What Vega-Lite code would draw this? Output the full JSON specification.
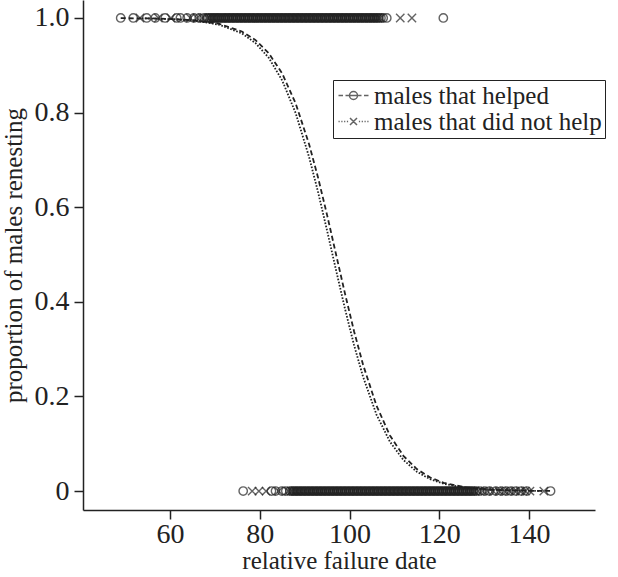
{
  "$schema": "https://vega.github.io/schema/vega-lite/v6.json",
  "width": 512,
  "height": 510,
  "autosize": {"type": "none"},
  "padding": {"left": 83, "top": 0, "right": 23, "bottom": 67},
  "background": "white",
  "config": {
    "view": {"stroke": null},
    "font": "Liberation Serif",
    "axis": {
      "grid": false,
      "domainColor": "#222",
      "domainWidth": 1.5,
      "tickColor": "#222",
      "tickWidth": 1.5,
      "tickSize": 9,
      "labelFont": "Liberation Serif",
      "labelFontSize": 28,
      "labelColor": "#222",
      "titleFont": "Liberation Serif",
      "titleFontSize": 25,
      "titleFontWeight": "normal",
      "titleColor": "#222"
    }
  },
  "datasets": {
    "pts": [
      {"x": 49.0, "y": 1, "g": "helped"}, {"x": 51.8, "y": 1, "g": "helped"}, {"x": 54.8, "y": 1, "g": "helped"},
      {"x": 56.7, "y": 1, "g": "helped"}, {"x": 58.9, "y": 1, "g": "helped"}, {"x": 61.5, "y": 1, "g": "helped"},
      {"x": 62.3, "y": 1, "g": "helped"}, {"x": 63.8, "y": 1, "g": "helped"}, {"x": 65.3, "y": 1, "g": "helped"},
      {"x": 66.5, "y": 1, "g": "helped"}, {"x": 67.6, "y": 1, "g": "helped"}, {"x": 68.2, "y": 1, "g": "helped"},
      {"x": 68.7, "y": 1, "g": "helped"}, {"x": 69.1, "y": 1, "g": "helped"}, {"x": 69.6, "y": 1, "g": "helped"},
      {"x": 70.0, "y": 1, "g": "helped"}, {"x": 70.5, "y": 1, "g": "helped"}, {"x": 70.9, "y": 1, "g": "helped"},
      {"x": 71.4, "y": 1, "g": "helped"}, {"x": 71.9, "y": 1, "g": "helped"}, {"x": 72.3, "y": 1, "g": "helped"},
      {"x": 72.8, "y": 1, "g": "helped"}, {"x": 73.2, "y": 1, "g": "helped"}, {"x": 73.7, "y": 1, "g": "helped"},
      {"x": 74.1, "y": 1, "g": "helped"}, {"x": 74.6, "y": 1, "g": "helped"}, {"x": 75.0, "y": 1, "g": "helped"},
      {"x": 75.5, "y": 1, "g": "helped"}, {"x": 75.9, "y": 1, "g": "helped"}, {"x": 76.4, "y": 1, "g": "helped"},
      {"x": 76.8, "y": 1, "g": "helped"}, {"x": 77.3, "y": 1, "g": "helped"}, {"x": 77.7, "y": 1, "g": "helped"},
      {"x": 78.2, "y": 1, "g": "helped"}, {"x": 78.6, "y": 1, "g": "helped"}, {"x": 79.1, "y": 1, "g": "helped"},
      {"x": 79.5, "y": 1, "g": "helped"}, {"x": 80.0, "y": 1, "g": "helped"}, {"x": 80.4, "y": 1, "g": "helped"},
      {"x": 80.9, "y": 1, "g": "helped"}, {"x": 81.3, "y": 1, "g": "helped"}, {"x": 81.8, "y": 1, "g": "helped"},
      {"x": 82.2, "y": 1, "g": "helped"}, {"x": 82.7, "y": 1, "g": "helped"}, {"x": 83.1, "y": 1, "g": "helped"},
      {"x": 83.6, "y": 1, "g": "helped"}, {"x": 84.0, "y": 1, "g": "helped"}, {"x": 84.5, "y": 1, "g": "helped"},
      {"x": 84.9, "y": 1, "g": "helped"}, {"x": 85.4, "y": 1, "g": "helped"}, {"x": 85.8, "y": 1, "g": "helped"},
      {"x": 86.3, "y": 1, "g": "helped"}, {"x": 86.7, "y": 1, "g": "helped"}, {"x": 87.2, "y": 1, "g": "helped"},
      {"x": 87.6, "y": 1, "g": "helped"}, {"x": 88.1, "y": 1, "g": "helped"}, {"x": 88.5, "y": 1, "g": "helped"},
      {"x": 89.0, "y": 1, "g": "helped"}, {"x": 89.4, "y": 1, "g": "helped"}, {"x": 89.9, "y": 1, "g": "helped"},
      {"x": 90.3, "y": 1, "g": "helped"}, {"x": 90.8, "y": 1, "g": "helped"}, {"x": 91.2, "y": 1, "g": "helped"},
      {"x": 91.7, "y": 1, "g": "helped"}, {"x": 92.1, "y": 1, "g": "helped"}, {"x": 92.6, "y": 1, "g": "helped"},
      {"x": 93.0, "y": 1, "g": "helped"}, {"x": 93.5, "y": 1, "g": "helped"}, {"x": 93.9, "y": 1, "g": "helped"},
      {"x": 94.4, "y": 1, "g": "helped"}, {"x": 94.8, "y": 1, "g": "helped"}, {"x": 95.3, "y": 1, "g": "helped"},
      {"x": 95.7, "y": 1, "g": "helped"}, {"x": 96.2, "y": 1, "g": "helped"}, {"x": 96.6, "y": 1, "g": "helped"},
      {"x": 97.1, "y": 1, "g": "helped"}, {"x": 97.5, "y": 1, "g": "helped"}, {"x": 98.0, "y": 1, "g": "helped"},
      {"x": 98.4, "y": 1, "g": "helped"}, {"x": 98.9, "y": 1, "g": "helped"}, {"x": 99.3, "y": 1, "g": "helped"},
      {"x": 99.8, "y": 1, "g": "helped"}, {"x": 100.2, "y": 1, "g": "helped"}, {"x": 100.7, "y": 1, "g": "helped"},
      {"x": 101.1, "y": 1, "g": "helped"}, {"x": 101.6, "y": 1, "g": "helped"}, {"x": 102.0, "y": 1, "g": "helped"},
      {"x": 102.5, "y": 1, "g": "helped"}, {"x": 102.9, "y": 1, "g": "helped"}, {"x": 103.4, "y": 1, "g": "helped"},
      {"x": 103.8, "y": 1, "g": "helped"}, {"x": 104.3, "y": 1, "g": "helped"}, {"x": 104.7, "y": 1, "g": "helped"},
      {"x": 105.2, "y": 1, "g": "helped"}, {"x": 105.6, "y": 1, "g": "helped"}, {"x": 106.1, "y": 1, "g": "helped"},
      {"x": 106.5, "y": 1, "g": "helped"}, {"x": 107.0, "y": 1, "g": "helped"}, {"x": 107.5, "y": 1, "g": "helped"},
      {"x": 108.3, "y": 1, "g": "helped"}, {"x": 120.9, "y": 1, "g": "helped"},
      {"x": 53.3, "y": 1, "g": "nothelp"}, {"x": 57.4, "y": 1, "g": "nothelp"}, {"x": 60.2, "y": 1, "g": "nothelp"},
      {"x": 64.5, "y": 1, "g": "nothelp"}, {"x": 66.0, "y": 1, "g": "nothelp"}, {"x": 67.2, "y": 1, "g": "nothelp"},
      {"x": 68.4, "y": 1, "g": "nothelp"}, {"x": 68.9, "y": 1, "g": "nothelp"}, {"x": 69.4, "y": 1, "g": "nothelp"},
      {"x": 69.8, "y": 1, "g": "nothelp"}, {"x": 70.3, "y": 1, "g": "nothelp"}, {"x": 70.7, "y": 1, "g": "nothelp"},
      {"x": 71.2, "y": 1, "g": "nothelp"}, {"x": 71.6, "y": 1, "g": "nothelp"}, {"x": 72.1, "y": 1, "g": "nothelp"},
      {"x": 72.5, "y": 1, "g": "nothelp"}, {"x": 73.0, "y": 1, "g": "nothelp"}, {"x": 73.4, "y": 1, "g": "nothelp"},
      {"x": 73.9, "y": 1, "g": "nothelp"}, {"x": 74.3, "y": 1, "g": "nothelp"}, {"x": 74.8, "y": 1, "g": "nothelp"},
      {"x": 75.2, "y": 1, "g": "nothelp"}, {"x": 75.7, "y": 1, "g": "nothelp"}, {"x": 76.1, "y": 1, "g": "nothelp"},
      {"x": 76.6, "y": 1, "g": "nothelp"}, {"x": 77.0, "y": 1, "g": "nothelp"}, {"x": 77.5, "y": 1, "g": "nothelp"},
      {"x": 77.9, "y": 1, "g": "nothelp"}, {"x": 78.4, "y": 1, "g": "nothelp"}, {"x": 78.8, "y": 1, "g": "nothelp"},
      {"x": 79.3, "y": 1, "g": "nothelp"}, {"x": 79.7, "y": 1, "g": "nothelp"}, {"x": 80.2, "y": 1, "g": "nothelp"},
      {"x": 80.6, "y": 1, "g": "nothelp"}, {"x": 81.1, "y": 1, "g": "nothelp"}, {"x": 81.5, "y": 1, "g": "nothelp"},
      {"x": 82.0, "y": 1, "g": "nothelp"}, {"x": 82.4, "y": 1, "g": "nothelp"}, {"x": 82.9, "y": 1, "g": "nothelp"},
      {"x": 83.3, "y": 1, "g": "nothelp"}, {"x": 83.8, "y": 1, "g": "nothelp"}, {"x": 84.2, "y": 1, "g": "nothelp"},
      {"x": 84.7, "y": 1, "g": "nothelp"}, {"x": 85.1, "y": 1, "g": "nothelp"}, {"x": 85.6, "y": 1, "g": "nothelp"},
      {"x": 86.0, "y": 1, "g": "nothelp"}, {"x": 86.5, "y": 1, "g": "nothelp"}, {"x": 86.9, "y": 1, "g": "nothelp"},
      {"x": 87.4, "y": 1, "g": "nothelp"}, {"x": 87.8, "y": 1, "g": "nothelp"}, {"x": 88.3, "y": 1, "g": "nothelp"},
      {"x": 88.7, "y": 1, "g": "nothelp"}, {"x": 89.2, "y": 1, "g": "nothelp"}, {"x": 89.6, "y": 1, "g": "nothelp"},
      {"x": 90.1, "y": 1, "g": "nothelp"}, {"x": 90.5, "y": 1, "g": "nothelp"}, {"x": 91.0, "y": 1, "g": "nothelp"},
      {"x": 91.4, "y": 1, "g": "nothelp"}, {"x": 91.9, "y": 1, "g": "nothelp"}, {"x": 92.3, "y": 1, "g": "nothelp"},
      {"x": 92.8, "y": 1, "g": "nothelp"}, {"x": 93.2, "y": 1, "g": "nothelp"}, {"x": 93.7, "y": 1, "g": "nothelp"},
      {"x": 94.1, "y": 1, "g": "nothelp"}, {"x": 94.6, "y": 1, "g": "nothelp"}, {"x": 95.0, "y": 1, "g": "nothelp"},
      {"x": 95.5, "y": 1, "g": "nothelp"}, {"x": 95.9, "y": 1, "g": "nothelp"}, {"x": 96.4, "y": 1, "g": "nothelp"},
      {"x": 96.8, "y": 1, "g": "nothelp"}, {"x": 97.3, "y": 1, "g": "nothelp"}, {"x": 97.7, "y": 1, "g": "nothelp"},
      {"x": 98.2, "y": 1, "g": "nothelp"}, {"x": 98.6, "y": 1, "g": "nothelp"}, {"x": 99.1, "y": 1, "g": "nothelp"},
      {"x": 99.5, "y": 1, "g": "nothelp"}, {"x": 100.0, "y": 1, "g": "nothelp"}, {"x": 100.4, "y": 1, "g": "nothelp"},
      {"x": 100.9, "y": 1, "g": "nothelp"}, {"x": 101.3, "y": 1, "g": "nothelp"}, {"x": 101.8, "y": 1, "g": "nothelp"},
      {"x": 102.2, "y": 1, "g": "nothelp"}, {"x": 102.7, "y": 1, "g": "nothelp"}, {"x": 103.1, "y": 1, "g": "nothelp"},
      {"x": 103.6, "y": 1, "g": "nothelp"}, {"x": 104.0, "y": 1, "g": "nothelp"}, {"x": 104.5, "y": 1, "g": "nothelp"},
      {"x": 104.9, "y": 1, "g": "nothelp"}, {"x": 105.4, "y": 1, "g": "nothelp"}, {"x": 105.8, "y": 1, "g": "nothelp"},
      {"x": 106.3, "y": 1, "g": "nothelp"}, {"x": 106.8, "y": 1, "g": "nothelp"}, {"x": 111.3, "y": 1, "g": "nothelp"},
      {"x": 113.9, "y": 1, "g": "nothelp"},
      {"x": 76.3, "y": 0, "g": "helped"}, {"x": 82.6, "y": 0, "g": "helped"}, {"x": 83.5, "y": 0, "g": "helped"},
      {"x": 84.9, "y": 0, "g": "helped"}, {"x": 85.8, "y": 0, "g": "helped"}, {"x": 86.7, "y": 0, "g": "helped"},
      {"x": 87.2, "y": 0, "g": "helped"}, {"x": 87.6, "y": 0, "g": "helped"}, {"x": 88.1, "y": 0, "g": "helped"},
      {"x": 88.5, "y": 0, "g": "helped"}, {"x": 89.0, "y": 0, "g": "helped"}, {"x": 89.4, "y": 0, "g": "helped"},
      {"x": 89.9, "y": 0, "g": "helped"}, {"x": 90.3, "y": 0, "g": "helped"}, {"x": 90.8, "y": 0, "g": "helped"},
      {"x": 91.2, "y": 0, "g": "helped"}, {"x": 91.7, "y": 0, "g": "helped"}, {"x": 92.1, "y": 0, "g": "helped"},
      {"x": 92.6, "y": 0, "g": "helped"}, {"x": 93.0, "y": 0, "g": "helped"}, {"x": 93.5, "y": 0, "g": "helped"},
      {"x": 93.9, "y": 0, "g": "helped"}, {"x": 94.4, "y": 0, "g": "helped"}, {"x": 94.8, "y": 0, "g": "helped"},
      {"x": 95.3, "y": 0, "g": "helped"}, {"x": 95.7, "y": 0, "g": "helped"}, {"x": 96.2, "y": 0, "g": "helped"},
      {"x": 96.6, "y": 0, "g": "helped"}, {"x": 97.1, "y": 0, "g": "helped"}, {"x": 97.5, "y": 0, "g": "helped"},
      {"x": 98.0, "y": 0, "g": "helped"}, {"x": 98.4, "y": 0, "g": "helped"}, {"x": 98.9, "y": 0, "g": "helped"},
      {"x": 99.3, "y": 0, "g": "helped"}, {"x": 99.8, "y": 0, "g": "helped"}, {"x": 100.2, "y": 0, "g": "helped"},
      {"x": 100.7, "y": 0, "g": "helped"}, {"x": 101.1, "y": 0, "g": "helped"}, {"x": 101.6, "y": 0, "g": "helped"},
      {"x": 102.0, "y": 0, "g": "helped"}, {"x": 102.5, "y": 0, "g": "helped"}, {"x": 102.9, "y": 0, "g": "helped"},
      {"x": 103.4, "y": 0, "g": "helped"}, {"x": 103.8, "y": 0, "g": "helped"}, {"x": 104.3, "y": 0, "g": "helped"},
      {"x": 104.7, "y": 0, "g": "helped"}, {"x": 105.2, "y": 0, "g": "helped"}, {"x": 105.6, "y": 0, "g": "helped"},
      {"x": 106.1, "y": 0, "g": "helped"}, {"x": 106.5, "y": 0, "g": "helped"}, {"x": 107.0, "y": 0, "g": "helped"},
      {"x": 107.4, "y": 0, "g": "helped"}, {"x": 107.9, "y": 0, "g": "helped"}, {"x": 108.3, "y": 0, "g": "helped"},
      {"x": 108.8, "y": 0, "g": "helped"}, {"x": 109.2, "y": 0, "g": "helped"}, {"x": 109.7, "y": 0, "g": "helped"},
      {"x": 110.1, "y": 0, "g": "helped"}, {"x": 110.6, "y": 0, "g": "helped"}, {"x": 111.0, "y": 0, "g": "helped"},
      {"x": 111.5, "y": 0, "g": "helped"}, {"x": 111.9, "y": 0, "g": "helped"}, {"x": 112.4, "y": 0, "g": "helped"},
      {"x": 112.8, "y": 0, "g": "helped"}, {"x": 113.3, "y": 0, "g": "helped"}, {"x": 113.7, "y": 0, "g": "helped"},
      {"x": 114.2, "y": 0, "g": "helped"}, {"x": 114.6, "y": 0, "g": "helped"}, {"x": 115.1, "y": 0, "g": "helped"},
      {"x": 115.5, "y": 0, "g": "helped"}, {"x": 116.0, "y": 0, "g": "helped"}, {"x": 116.4, "y": 0, "g": "helped"},
      {"x": 116.9, "y": 0, "g": "helped"}, {"x": 117.3, "y": 0, "g": "helped"}, {"x": 117.8, "y": 0, "g": "helped"},
      {"x": 118.2, "y": 0, "g": "helped"}, {"x": 118.7, "y": 0, "g": "helped"}, {"x": 119.1, "y": 0, "g": "helped"},
      {"x": 119.6, "y": 0, "g": "helped"}, {"x": 120.0, "y": 0, "g": "helped"}, {"x": 120.5, "y": 0, "g": "helped"},
      {"x": 120.9, "y": 0, "g": "helped"}, {"x": 121.4, "y": 0, "g": "helped"}, {"x": 121.8, "y": 0, "g": "helped"},
      {"x": 122.3, "y": 0, "g": "helped"}, {"x": 122.7, "y": 0, "g": "helped"}, {"x": 123.2, "y": 0, "g": "helped"},
      {"x": 123.6, "y": 0, "g": "helped"}, {"x": 124.1, "y": 0, "g": "helped"}, {"x": 124.5, "y": 0, "g": "helped"},
      {"x": 125.0, "y": 0, "g": "helped"}, {"x": 125.4, "y": 0, "g": "helped"}, {"x": 125.9, "y": 0, "g": "helped"},
      {"x": 126.3, "y": 0, "g": "helped"}, {"x": 126.8, "y": 0, "g": "helped"}, {"x": 127.2, "y": 0, "g": "helped"},
      {"x": 127.7, "y": 0, "g": "helped"}, {"x": 128.2, "y": 0, "g": "helped"}, {"x": 129.0, "y": 0, "g": "helped"},
      {"x": 130.1, "y": 0, "g": "helped"}, {"x": 131.2, "y": 0, "g": "helped"}, {"x": 132.6, "y": 0, "g": "helped"},
      {"x": 133.8, "y": 0, "g": "helped"}, {"x": 134.9, "y": 0, "g": "helped"}, {"x": 136.0, "y": 0, "g": "helped"},
      {"x": 137.1, "y": 0, "g": "helped"}, {"x": 138.3, "y": 0, "g": "helped"}, {"x": 139.5, "y": 0, "g": "helped"},
      {"x": 144.8, "y": 0, "g": "helped"},
      {"x": 78.3, "y": 0, "g": "nothelp"}, {"x": 79.8, "y": 0, "g": "nothelp"}, {"x": 81.4, "y": 0, "g": "nothelp"},
      {"x": 84.2, "y": 0, "g": "nothelp"}, {"x": 86.4, "y": 0, "g": "nothelp"}, {"x": 87.0, "y": 0, "g": "nothelp"},
      {"x": 87.4, "y": 0, "g": "nothelp"}, {"x": 87.9, "y": 0, "g": "nothelp"}, {"x": 88.3, "y": 0, "g": "nothelp"},
      {"x": 88.8, "y": 0, "g": "nothelp"}, {"x": 89.2, "y": 0, "g": "nothelp"}, {"x": 89.7, "y": 0, "g": "nothelp"},
      {"x": 90.1, "y": 0, "g": "nothelp"}, {"x": 90.6, "y": 0, "g": "nothelp"}, {"x": 91.0, "y": 0, "g": "nothelp"},
      {"x": 91.5, "y": 0, "g": "nothelp"}, {"x": 91.9, "y": 0, "g": "nothelp"}, {"x": 92.4, "y": 0, "g": "nothelp"},
      {"x": 92.8, "y": 0, "g": "nothelp"}, {"x": 93.3, "y": 0, "g": "nothelp"}, {"x": 93.7, "y": 0, "g": "nothelp"},
      {"x": 94.2, "y": 0, "g": "nothelp"}, {"x": 94.6, "y": 0, "g": "nothelp"}, {"x": 95.1, "y": 0, "g": "nothelp"},
      {"x": 95.5, "y": 0, "g": "nothelp"}, {"x": 96.0, "y": 0, "g": "nothelp"}, {"x": 96.4, "y": 0, "g": "nothelp"},
      {"x": 96.9, "y": 0, "g": "nothelp"}, {"x": 97.3, "y": 0, "g": "nothelp"}, {"x": 97.8, "y": 0, "g": "nothelp"},
      {"x": 98.2, "y": 0, "g": "nothelp"}, {"x": 98.7, "y": 0, "g": "nothelp"}, {"x": 99.1, "y": 0, "g": "nothelp"},
      {"x": 99.6, "y": 0, "g": "nothelp"}, {"x": 100.0, "y": 0, "g": "nothelp"}, {"x": 100.5, "y": 0, "g": "nothelp"},
      {"x": 100.9, "y": 0, "g": "nothelp"}, {"x": 101.4, "y": 0, "g": "nothelp"}, {"x": 101.8, "y": 0, "g": "nothelp"},
      {"x": 102.3, "y": 0, "g": "nothelp"}, {"x": 102.7, "y": 0, "g": "nothelp"}, {"x": 103.2, "y": 0, "g": "nothelp"},
      {"x": 103.6, "y": 0, "g": "nothelp"}, {"x": 104.1, "y": 0, "g": "nothelp"}, {"x": 104.5, "y": 0, "g": "nothelp"},
      {"x": 105.0, "y": 0, "g": "nothelp"}, {"x": 105.4, "y": 0, "g": "nothelp"}, {"x": 105.9, "y": 0, "g": "nothelp"},
      {"x": 106.3, "y": 0, "g": "nothelp"}, {"x": 106.8, "y": 0, "g": "nothelp"}, {"x": 107.2, "y": 0, "g": "nothelp"},
      {"x": 107.7, "y": 0, "g": "nothelp"}, {"x": 108.1, "y": 0, "g": "nothelp"}, {"x": 108.6, "y": 0, "g": "nothelp"},
      {"x": 109.0, "y": 0, "g": "nothelp"}, {"x": 109.5, "y": 0, "g": "nothelp"}, {"x": 109.9, "y": 0, "g": "nothelp"},
      {"x": 110.4, "y": 0, "g": "nothelp"}, {"x": 110.8, "y": 0, "g": "nothelp"}, {"x": 111.3, "y": 0, "g": "nothelp"},
      {"x": 111.7, "y": 0, "g": "nothelp"}, {"x": 112.2, "y": 0, "g": "nothelp"}, {"x": 112.6, "y": 0, "g": "nothelp"},
      {"x": 113.1, "y": 0, "g": "nothelp"}, {"x": 113.5, "y": 0, "g": "nothelp"}, {"x": 114.0, "y": 0, "g": "nothelp"},
      {"x": 114.4, "y": 0, "g": "nothelp"}, {"x": 114.9, "y": 0, "g": "nothelp"}, {"x": 115.3, "y": 0, "g": "nothelp"},
      {"x": 115.8, "y": 0, "g": "nothelp"}, {"x": 116.2, "y": 0, "g": "nothelp"}, {"x": 116.7, "y": 0, "g": "nothelp"},
      {"x": 117.1, "y": 0, "g": "nothelp"}, {"x": 117.6, "y": 0, "g": "nothelp"}, {"x": 118.0, "y": 0, "g": "nothelp"},
      {"x": 118.5, "y": 0, "g": "nothelp"}, {"x": 118.9, "y": 0, "g": "nothelp"}, {"x": 119.4, "y": 0, "g": "nothelp"},
      {"x": 119.8, "y": 0, "g": "nothelp"}, {"x": 120.3, "y": 0, "g": "nothelp"}, {"x": 120.7, "y": 0, "g": "nothelp"},
      {"x": 121.2, "y": 0, "g": "nothelp"}, {"x": 121.6, "y": 0, "g": "nothelp"}, {"x": 122.1, "y": 0, "g": "nothelp"},
      {"x": 122.5, "y": 0, "g": "nothelp"}, {"x": 123.0, "y": 0, "g": "nothelp"}, {"x": 123.4, "y": 0, "g": "nothelp"},
      {"x": 123.9, "y": 0, "g": "nothelp"}, {"x": 124.3, "y": 0, "g": "nothelp"}, {"x": 124.8, "y": 0, "g": "nothelp"},
      {"x": 125.2, "y": 0, "g": "nothelp"}, {"x": 125.7, "y": 0, "g": "nothelp"}, {"x": 126.1, "y": 0, "g": "nothelp"},
      {"x": 126.6, "y": 0, "g": "nothelp"}, {"x": 127.0, "y": 0, "g": "nothelp"}, {"x": 127.5, "y": 0, "g": "nothelp"},
      {"x": 127.9, "y": 0, "g": "nothelp"}, {"x": 128.6, "y": 0, "g": "nothelp"}, {"x": 129.6, "y": 0, "g": "nothelp"},
      {"x": 130.7, "y": 0, "g": "nothelp"}, {"x": 132.0, "y": 0, "g": "nothelp"}, {"x": 133.3, "y": 0, "g": "nothelp"},
      {"x": 134.5, "y": 0, "g": "nothelp"}, {"x": 135.6, "y": 0, "g": "nothelp"}, {"x": 136.8, "y": 0, "g": "nothelp"},
      {"x": 138.0, "y": 0, "g": "nothelp"}, {"x": 139.2, "y": 0, "g": "nothelp"}, {"x": 140.2, "y": 0, "g": "nothelp"},
      {"x": 143.3, "y": 0, "g": "nothelp"}
    ],
    "curves": [
      {"x": 49, "p": 0.9996, "g": "helped"}, {"x": 56, "p": 0.999, "g": "helped"}, {"x": 61, "p": 0.9976, "g": "helped"},
      {"x": 66, "p": 0.9946, "g": "helped"}, {"x": 71, "p": 0.9875, "g": "helped"}, {"x": 76, "p": 0.9715, "g": "helped"},
      {"x": 79, "p": 0.9537, "g": "helped"}, {"x": 82, "p": 0.9255, "g": "helped"}, {"x": 85, "p": 0.8825, "g": "helped"},
      {"x": 88, "p": 0.8193, "g": "helped"}, {"x": 91, "p": 0.7326, "g": "helped"}, {"x": 93, "p": 0.662, "g": "helped"},
      {"x": 95, "p": 0.5833, "g": "helped"}, {"x": 97, "p": 0.5, "g": "helped"}, {"x": 99, "p": 0.4168, "g": "helped"},
      {"x": 101, "p": 0.338, "g": "helped"}, {"x": 103, "p": 0.2674, "g": "helped"}, {"x": 106, "p": 0.1806, "g": "helped"},
      {"x": 109, "p": 0.1175, "g": "helped"}, {"x": 112, "p": 0.0745, "g": "helped"}, {"x": 115, "p": 0.0464, "g": "helped"},
      {"x": 118, "p": 0.0285, "g": "helped"}, {"x": 121, "p": 0.0174, "g": "helped"}, {"x": 126, "p": 0.0076, "g": "helped"},
      {"x": 131, "p": 0.0033, "g": "helped"}, {"x": 136, "p": 0.0014, "g": "helped"}, {"x": 141, "p": 0.0006, "g": "helped"},
      {"x": 145, "p": 0.0003, "g": "helped"},
      {"x": 53, "p": 0.9992, "g": "nothelp"}, {"x": 56, "p": 0.9988, "g": "nothelp"}, {"x": 61, "p": 0.9973, "g": "nothelp"},
      {"x": 66, "p": 0.9938, "g": "nothelp"}, {"x": 71, "p": 0.9857, "g": "nothelp"}, {"x": 76, "p": 0.9675, "g": "nothelp"},
      {"x": 79, "p": 0.9473, "g": "nothelp"}, {"x": 82, "p": 0.9158, "g": "nothelp"}, {"x": 85, "p": 0.8678, "g": "nothelp"},
      {"x": 88, "p": 0.7987, "g": "nothelp"}, {"x": 91, "p": 0.7056, "g": "nothelp"}, {"x": 93, "p": 0.6314, "g": "nothelp"},
      {"x": 95, "p": 0.5503, "g": "nothelp"}, {"x": 97, "p": 0.4666, "g": "nothelp"}, {"x": 99, "p": 0.3846, "g": "nothelp"},
      {"x": 101, "p": 0.3087, "g": "nothelp"}, {"x": 103, "p": 0.242, "g": "nothelp"}, {"x": 106, "p": 0.1617, "g": "nothelp"},
      {"x": 109, "p": 0.1043, "g": "nothelp"}, {"x": 112, "p": 0.0658, "g": "nothelp"}, {"x": 115, "p": 0.0408, "g": "nothelp"},
      {"x": 118, "p": 0.025, "g": "nothelp"}, {"x": 121, "p": 0.0153, "g": "nothelp"}, {"x": 126, "p": 0.0067, "g": "nothelp"},
      {"x": 131, "p": 0.0029, "g": "nothelp"}, {"x": 136, "p": 0.0012, "g": "nothelp"}, {"x": 141, "p": 0.0005, "g": "nothelp"},
      {"x": 143, "p": 0.0003, "g": "nothelp"}
    ]
  },
  "layer": [
    {
      "data": {"name": "curves"},
      "transform": [{"filter": "datum.g == 'helped'"}],
      "mark": {"type": "line", "strokeWidth": 1.8, "color": "#222", "strokeDash": [5, 3]},
      "encoding": {
        "x": {"field": "x", "type": "quantitative", "scale": {"domain": [40.6, 154.7], "nice": false, "zero": false},
              "axis": {"values": [60, 80, 100, 120, 140], "title": "relative failure date", "labelPadding": 1, "titlePadding": 0}},
        "y": {"field": "p", "type": "quantitative", "scale": {"domain": [-0.04, 1.038], "nice": false, "zero": false},
              "axis": {"values": [0, 0.2, 0.4, 0.6, 0.8, 1], "title": "proportion of males renesting", "labelPadding": 5, "titlePadding": 8,
                       "labelExpr": "datum.value == 0 ? '0' : format(datum.value, '.1f')"}}
      }
    },
    {
      "data": {"name": "curves"},
      "transform": [{"filter": "datum.g == 'nothelp'"}],
      "mark": {"type": "line", "strokeWidth": 1.8, "color": "#222", "strokeDash": [1.6, 1.6]},
      "encoding": {
        "x": {"field": "x", "type": "quantitative"},
        "y": {"field": "p", "type": "quantitative"}
      }
    },
    {
      "data": {"name": "pts"},
      "transform": [{"filter": "datum.g == 'helped'"}],
      "mark": {"type": "point", "shape": "circle", "filled": false, "strokeWidth": 1.4, "color": "#222", "size": 70},
      "encoding": {
        "x": {"field": "x", "type": "quantitative"},
        "y": {"field": "y", "type": "quantitative"}
      }
    },
    {
      "data": {"name": "pts"},
      "transform": [{"filter": "datum.g == 'nothelp'"}],
      "mark": {"type": "point", "shape": "M-1,-1L1,1M-1,1L1,-1", "filled": false, "strokeWidth": 1.4, "color": "#222", "size": 70},
      "encoding": {
        "x": {"field": "x", "type": "quantitative"},
        "y": {"field": "y", "type": "quantitative"}
      }
    },
    {
      "data": {"name": "pts"},
      "transform": [{"filter": "false"}],
      "mark": {"type": "point", "filled": false, "strokeWidth": 1.5, "color": "#222"},
      "encoding": {
        "x": {"field": "x", "type": "quantitative"},
        "y": {"field": "y", "type": "quantitative"},
        "shape": {"field": "g", "type": "nominal",
                  "scale": {"domain": ["helped", "nothelp"],
                            "range": ["M-1.5,0H-1.05M-0.8,0H0.8M1.05,0H1.5M0.4,0A0.4,0.4 0 1,1 -0.4,0A0.4,0.4 0 1,1 0.4,0",
                                      "M-1.5,0H-1.38M-1.22,0H-1.1M-0.94,0H-0.82M-0.66,0H-0.54M0.54,0H0.66M0.82,0H0.94M1.1,0H1.22M1.38,0H1.5M-0.35,-0.35L0.35,0.35M-0.35,0.35L0.35,-0.35"]},
                  "legend": {
                    "title": null,
                    "orient": "none",
                    "legendX": 250,
                    "legendY": 80,
                    "strokeColor": "#222",
                    "padding": 3,
                    "rowPadding": -3,
                    "symbolSize": 400,
                    "symbolOffset": 5,
                    "labelOffset": 8,
                    "labelFont": "Liberation Serif",
                    "labelFontSize": 25,
                    "labelColor": "#222",
                    "labelExpr": "datum.value == 'helped' ? 'males that helped' : 'males that did not help'",
                    "labelLimit": 400,
                    "symbolStrokeColor": "#222",
                    "symbolStrokeWidth": 1.5,
                    "fillColor": "white"
                  }}
      }
    }
  ]
}
